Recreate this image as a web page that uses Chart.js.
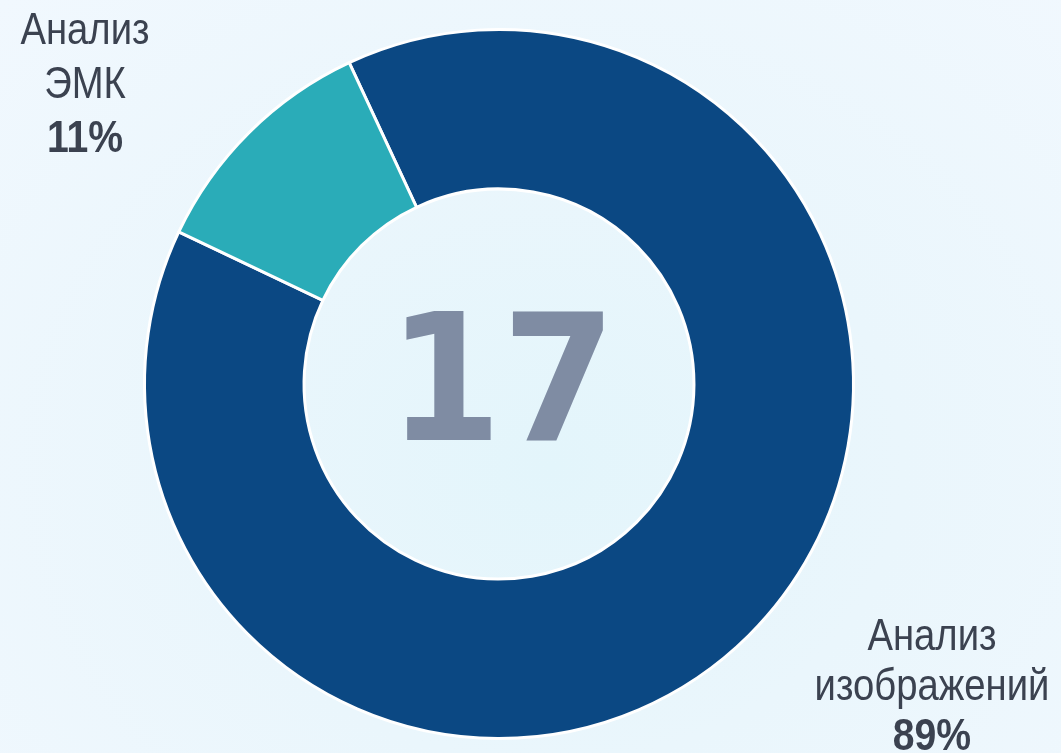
<!DOCTYPE html>
<html lang="ru">
<head>
    <meta charset="UTF-8">
    <title>Анализ</title>
    <script src="https://cdn.jsdelivr.net/npm/chart.js"></script>
    <style>
        html, body {
            margin: 0;
            padding: 0;
            width: 1061px;
            height: 753px;
            overflow: hidden;
        }
        body {
            background: radial-gradient(ellipse at 52% 62%, #e3f5fb 0%, #eaf6fc 45%, #f1f8fe 100%);
        }
        .chart-container {
            position: relative;
            width: 1061px;
            height: 753px;
        }
    </style>
</head>
<body>
    <div class="chart-container">
        <canvas id="donut"></canvas>
    </div>

    <script>
        // Data
        const labels = [['Анализ', 'изображений'], ['Анализ', 'ЭМК']];
        const values = [89, 11];
        const colors = ['#0b4883', '#2aacb8'];
        const centerValue = '17';

        // draw text squeezed horizontally (narrow look)
        function narrowText(ctx, text, x, y, sx) {
            ctx.save();
            ctx.translate(x, y);
            ctx.scale(sx, 1);
            ctx.fillText(text, 0, 0);
            ctx.restore();
        }

        // Labels around the ring + number in the middle
        const labelPlugin = {
            id: 'ringLabels',
            afterDraw(chart) {
                const ctx = chart.ctx;
                const anchors = [{ x: 85, y: 44 }];
                anchors.unshift({ x: 932, y: 650 });
                const gap = [50, 54];
                const total = values.reduce((a, b) => a + b, 0);
                ctx.save();
                ctx.textAlign = 'center';
                ctx.textBaseline = 'alphabetic';
                ctx.fillStyle = '#3b4250';
                labels.forEach((lines, i) => {
                    const a = anchors[i];
                    ctx.font = '45px "Liberation Sans", Arial, sans-serif';
                    lines.forEach((line, j) => {
                        narrowText(ctx, line, a.x, a.y + j * gap[i], 0.85);
                    });
                    ctx.font = 'bold 45px "Liberation Sans", Arial, sans-serif';
                    const pct = Math.round(values[i] / total * 100) + '%';
                    narrowText(ctx, pct, a.x, a.y + lines.length * gap[i], 0.87);
                });

                const meta = chart.getDatasetMeta(0).data[0];
                ctx.fillStyle = '#7f8ca3';
                ctx.font = 'bold 176px "DejaVu Sans", sans-serif';
                narrowText(ctx, centerValue, meta.x + 3, 440, 0.93);
                ctx.restore();
            }
        };

        const ctx = document.getElementById('donut').getContext('2d');
        const chart = new Chart(ctx, {
            type: 'doughnut',
            data: {
                labels: labels.map(l => l.join(' ')),
                datasets: [{
                    data: values,
                    backgroundColor: colors,
                    borderColor: '#ffffff',
                    borderWidth: 3
                }]
            },
            options: {
                responsive: true,
                maintainAspectRatio: false,
                animation: false,
                cutout: '55%',
                rotation: -25,
                layout: {
                    padding: { left: 143, right: 206, top: 28, bottom: 13 }
                },
                plugins: {
                    legend: { display: false },
                    tooltip: { enabled: false }
                }
            },
            plugins: [labelPlugin]
        });
    </script>
</body>
</html>
